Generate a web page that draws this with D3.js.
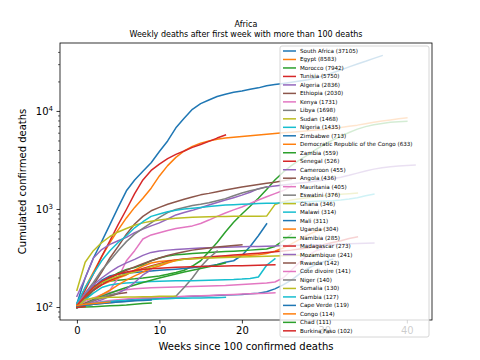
<!DOCTYPE html>
<html><head><meta charset="utf-8">
<script src="https://cdn.jsdelivr.net/npm/d3@7"></script>
<style>body{margin:0;background:#fff}svg{display:block}text{font-family:"DejaVu Sans",sans-serif;fill:#000}</style>
</head><body><svg id="c" width="480" height="360"></svg>
<script>
const titleMain = "Africa";
const titleSub = "Weekly deaths after first week with more than 100 deaths";
const xLabel = "Weeks since 100 confirmed deaths";
const yLabel = "Cumulated confirmed deaths";
const countries = ["South Africa","Egypt","Morocco","Tunisia","Algeria","Ethiopia","Kenya","Libya","Sudan","Nigeria","Zimbabwe","Democratic Republic of the Congo","Zambia","Senegal","Cameroon","Angola","Mauritania","Eswatini","Ghana","Malawi","Mali","Uganda","Namibia","Madagascar","Mozambique","Rwanda","Cote divoire","Niger","Somalia","Gambia","Cape Verde","Congo","Chad","Burkina Faso"];
const totals = [37105,8583,7942,5750,2836,2030,1731,1698,1468,1435,713,633,559,526,455,436,405,376,346,314,311,304,285,273,241,142,141,140,130,127,119,114,111,102];

const southAfrica = [110,200,320,470,700,1050,1550,2000,2450,3000,3900,5000,6800,8500,10500,12000,13100,14200,15000,15700,16200,16800,17400,18300,18800,19300,19800,20400,21100,22000,23200,24800,26500,28500,30500,32500,34800,37105];
const egypt = [105,160,230,330,460,620,820,1050,1300,1650,2200,2800,3400,3950,4400,4750,5000,5200,5350,5450,5550,5650,5750,5850,5950,6050,6150,6250,6350,6450,6550,6700,6850,7050,7250,7500,7750,8000,8200,8400,8583];
const morocco = [100,135,165,180,186,190,193,196,200,205,210,218,228,240,265,300,370,460,590,740,900,1080,1300,1600,2000,2400,2800,3200,3600,4100,4600,5100,5600,6100,6600,7000,7300,7550,7750,7870,7942];
const tunisia = [105,150,220,330,480,700,1000,1450,2000,2500,2900,3300,3650,3950,4300,4600,4950,5350,5750];
const algeria = [130,200,320,390,440,480,520,580,630,680,730,800,880,930,980,1040,1110,1180,1250,1320,1400,1500,1630,1700,1740,1780,1820,1860,1900,1950,2000,2060,2130,2230,2350,2470,2580,2660,2730,2780,2810,2836];
const ethiopia = [105,130,170,230,320,420,560,710,850,970,1050,1130,1200,1270,1340,1410,1460,1520,1580,1640,1700,1750,1800,1850,1900,1960,2030];
const kenya = [100,105,115,130,150,200,300,380,500,550,580,610,640,660,680,720,780,850,920,990,1060,1150,1250,1350,1450,1560,1731];
const libya = [110,140,180,240,300,380,470,560,640,730,830,930,1000,1050,1100,1130,1170,1230,1290,1380,1470,1550,1620,1698];
const sudan = [150,290,380,460,530,590,640,690,730,760,780,800,815,825,835,840,845,848,850,852,853,854,855,856,1120,1200,1250,1290,1320,1350,1380,1410,1430,1450,1468];
const nigeria = [110,160,220,300,380,460,540,650,750,850,900,950,980,1010,1030,1050,1070,1090,1110,1120,1130,1140,1150,1155,1160,1170,1180,1190,1200,1210,1220,1230,1250,1280,1320,1380,1435];
const zimbabwe = [104,130,160,190,210,220,225,228,232,236,240,243,246,250,255,260,265,275,290,300,340,420,540,713];
const drCongo = [105,130,150,170,185,200,215,240,265,285,295,300,305,310,314,318,322,326,330,334,338,342,346,355,375,405,445,495,550,600,633];
const zambia = [100,120,150,180,200,225,245,256,275,300,320,336,345,350,355,360,364,368,372,376,380,385,390,395,420,480,559];
const senegal = [105,130,150,170,190,205,220,235,250,265,280,295,305,312,318,323,328,333,338,343,348,353,358,364,370,378,385,395,405,420,440,460,480,505,526];
const cameroon = [105,140,170,200,230,260,285,310,340,365,378,385,390,395,400,405,408,410,412,414,416,418,420,422,425,428,430,432,434,436,438,440,443,446,449,452,455];
const angola = [105,125,150,180,200,220,240,260,280,300,320,340,355,370,385,395,405,415,422,430,436];
const mauritania = [100,115,125,135,142,148,152,155,157,159,160,161,162,163,164,165,166,167,168,170,172,174,176,178,182,200,240,290,340,380,405];
const eswatini = [100,105,108,110,112,114,116,118,120,122,124,126,130,160,200,260,320,376];
const ghana = [105,130,160,180,195,210,220,230,245,260,275,290,300,310,315,318,320,322,324,326,328,330,332,334,336,338,340,342,344,346];
const malawi = [100,120,140,160,170,175,178,180,182,184,185,186,187,188,188,189,190,191,192,193,195,198,205,270,314];
const mali = [100,105,108,112,115,118,120,122,124,125,126,127,128,129,130,131,132,133,134,135,136,138,140,145,155,170,190,220,250,275,295,311];
const uganda = [100,110,120,135,150,170,190,210,230,250,265,285,304];
const namibia = [100,110,120,130,140,150,160,170,180,190,200,210,220,230,240,250,260,272,285];
const madagascar = [105,130,160,185,205,220,230,238,244,248,252,255,257,259,261,262,263,264,265,266,267,268,270,272,273];
const mozambique = [100,105,112,120,130,140,155,180,215,241];
const rwanda = [100,110,118,125,132,138,142];
const coteDivoire = [100,105,110,115,118,120,122,124,125,126,127,128,129,130,131,132,133,134,135,136,137,138,139,140,141];
const niger = [100,108,118,128,135,140];
const somalia = [100,120,125,126,127,127,128,128,129,129,130,130,130];
const gambia = [100,105,110,113,115,117,118,119,120,121,122,123,124,124,125,125,126,126,127];
const capeVerde = [104,106,108,110,112,114,115,117,118,119];
const congo = [105,108,110,112,114];
const chad = [100,101,102,103,104,105,106,108,110,111];
const burkinaFaso = [100,102];

const seriesValues = [southAfrica,egypt,morocco,tunisia,algeria,ethiopia,kenya,libya,sudan,nigeria,zimbabwe,drCongo,zambia,senegal,cameroon,angola,mauritania,eswatini,ghana,malawi,mali,uganda,namibia,madagascar,mozambique,rwanda,coteDivoire,niger,somalia,gambia,capeVerde,congo,chad,burkinaFaso];
const xTicks = [0,10,20,30,40];
const yTicks = [100,1000,10000];
const yTickExp = ["2","3","4"];
const palette = ["#1f77b4","#ff7f0e","#2ca02c","#d62728","#9467bd","#8c564b","#e377c2","#7f7f7f","#bcbd22","#17becf"];

const L=60,R=432,T=43,B=320;
const svg = d3.select("#c");
const x = d3.scaleLinear().domain([-2.05,43.05]).range([L,R]);
const y = d3.scaleLog().domain([74.6,49900]).range([B,T]);

svg.append("defs").append("clipPath").attr("id","clip").append("rect")
  .attr("x",L).attr("y",T).attr("width",R-L).attr("height",B-T);

const line = d3.line().x((d,i)=>x(i)).y(d=>y(d));
const g = svg.append("g").attr("clip-path","url(#clip)");
seriesValues.forEach((vals,k)=>{
  g.append("path").datum(vals).attr("d",line).attr("fill","none")
   .attr("stroke",palette[k%10]).attr("stroke-width",1.5)
   .attr("stroke-linejoin","round").attr("stroke-linecap","square");
});

// axes
const xa = svg.append("g").attr("transform",`translate(0,${B})`)
  .call(d3.axisBottom(x).tickValues(xTicks).tickSize(3.5).tickPadding(3.5).tickSizeOuter(0));
xa.select(".domain").remove();
xa.selectAll("text").attr("font-size",10).attr("font-family","DejaVu Sans").attr("fill","#000");
xa.selectAll("line").attr("stroke","#000").attr("stroke-width",0.8);

// y minor ticks
const minor = [];
for (let e=1;e<=4;e++) for (let m=2;m<=9;m++){const v=m*Math.pow(10,e); if (v>74.6 && v<49900) minor.push(v);}
const ya = svg.append("g");
ya.selectAll("line.mn").data(minor).join("line").attr("x1",L-2).attr("x2",L)
  .attr("y1",d=>y(d)).attr("y2",d=>y(d)).attr("stroke","#000").attr("stroke-width",0.6);
ya.selectAll("line.mj").data(yTicks).join("line").attr("x1",L-3.5).attr("x2",L)
  .attr("y1",d=>y(d)).attr("y2",d=>y(d)).attr("stroke","#000").attr("stroke-width",0.8);
const yt = ya.selectAll("text.yl").data(yTicks).join("text")
  .attr("x",L-7).attr("y",d=>y(d)+3.5).attr("text-anchor","end").attr("font-size",10);
yt.append("tspan").text("10");
yt.append("tspan").attr("dy",-4).attr("font-size",7).text((d,i)=>yTickExp[i]);

svg.append("rect").attr("x",L).attr("y",T).attr("width",R-L).attr("height",B-T)
  .attr("fill","none").attr("stroke","#000").attr("stroke-width",0.8);

// titles
svg.append("text").attr("x",(L+R)/2).attr("y",26.5).attr("text-anchor","middle").attr("font-size",8).text(titleMain);
svg.append("text").attr("x",(L+R)/2).attr("y",36.5).attr("text-anchor","middle").attr("font-size",8).text(titleSub);
svg.append("text").attr("x",(L+R)/2).attr("y",350).attr("text-anchor","middle").attr("font-size",10).text(xLabel);
svg.append("text").attr("transform",`translate(26,${(T+B)/2}) rotate(-90)`).attr("text-anchor","middle").attr("font-size",10).text(yLabel);

// legend
const lx=280, ly=46, lw=149, lh=291, rowH=8.48, row0=51;
svg.append("rect").attr("x",lx).attr("y",ly).attr("width",lw).attr("height",lh).attr("rx",2)
  .attr("fill","#fff").attr("fill-opacity",0.8).attr("stroke","#cccccc").attr("stroke-width",0.8);
const lg = svg.append("g");
countries.forEach((c,k)=>{
  const yy=row0+k*rowH;
  lg.append("line").attr("x1",283).attr("x2",296).attr("y1",yy).attr("y2",yy)
    .attr("stroke",palette[k%10]).attr("stroke-width",1.5);
  lg.append("text").attr("x",300).attr("y",yy+2).attr("font-size",5.6).attr("fill","#222").text(`${c} (${totals[k]})`);
});
</script></body></html>
